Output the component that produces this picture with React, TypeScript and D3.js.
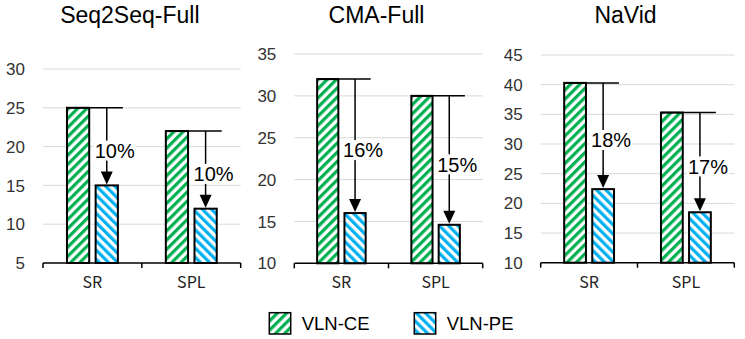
import React from "react";
import * as d3 from "d3";

const panelTitles = ["Seq2Seq-Full", "CMA-Full", "NaVid"];
const categories = ["SR", "SPL"];
const seriesNames = ["VLN-CE", "VLN-PE"];
const ceValues = [
  [25, 22],
  [32, 30],
  [40.3, 35.3],
];
const peValues = [
  [15, 12],
  [16, 14.6],
  [22.4, 18.5],
];
const dropLabels = [
  ["10%", "10%"],
  ["16%", "15%"],
  ["18%", "17%"],
];
const yDomains = [
  [5, 30],
  [10, 35],
  [10, 45],
];
const yTickStep = 5;

const layout = [
  { left: 43, right: 240.7, top: 69, bottom: 263 },
  { left: 294.3, right: 482.7, top: 54, bottom: 263.3 },
  { left: 540.7, right: 734.3, top: 55, bottom: 262.7 },
];

const GREEN = "#00B050";
const BLUE = "#00B0F0";
const FONT = "'Liberation Sans', Arial, sans-serif";
const CAT_FONT = "'Noto Sans CJK SC', 'Liberation Sans', sans-serif";

function Panel({ idx }: { idx: number }) {
  const L = layout[idx];
  const dom = yDomains[idx];
  const y = d3.scaleLinear().domain(dom).range([L.bottom, L.top]);
  const x0 = d3.scaleBand().domain(categories).range([L.left, L.right]);
  const bw = x0.bandwidth();
  const w = bw * 0.225;
  const g = bw * 0.065;
  const ticks = d3.range(dom[0], dom[1] + 0.001, yTickStep);
  const boundaries = [L.left, ...categories.map((c) => (x0(c) as number) + bw)];
  return (
    <g>
      <text
        x={(L.left + L.right) / 2 - 12}
        y={23}
        fontFamily={FONT}
        fontSize={23}
        textAnchor="middle"
        fill="#000"
      >
        {panelTitles[idx]}
      </text>
      {ticks.map((t) => (
        <g key={t}>
          {t !== dom[0] && (
            <line x1={L.left} x2={L.right} y1={y(t)} y2={y(t)} stroke="#d9d9d9" strokeWidth={1} />
          )}
          <text
            x={L.left - 18}
            y={y(t)}
            dy="0.36em"
            textAnchor="end"
            fontFamily={FONT}
            fontSize={17}
            fill="#333"
          >
            {t}
          </text>
        </g>
      ))}
      {categories.map((c, i) => {
        const cx = (x0(c) as number) + bw / 2;
        const gx = cx - g / 2 - w;
        const bx = cx + g / 2;
        const ce = ceValues[idx][i];
        const pe = peValues[idx][i];
        const ax = bx + w / 2;
        const yCe = y(ce);
        const yPe = y(pe);
        const ly = (yCe + yPe) / 2 + 4;
        const lx = ax + 8;
        return (
          <g key={c}>
            <rect x={gx} y={yCe} width={w} height={L.bottom - yCe} fill="url(#hatchGreen)" stroke="#000" strokeWidth={2} />
            <rect x={bx} y={yPe} width={w} height={L.bottom - yPe} fill="url(#hatchBlue)" stroke="#000" strokeWidth={2} />
            <line x1={gx} x2={bx + w + 5} y1={yCe} y2={yCe} stroke="#000" strokeWidth={1.5} />
            <line x1={ax} x2={ax} y1={yCe} y2={yPe - 12} stroke="#000" strokeWidth={1.5} />
            <path
              d={`M${ax - 6},${yPe - 14} L${ax + 6},${yPe - 14} L${ax},${yPe - 1} Z`}
              fill="#000"
            />
            <rect x={lx - 21} y={ly - 10} width={42} height={20} fill="#fff" />
            <text
              x={lx}
              y={ly}
              dy="0.36em"
              textAnchor="middle"
              fontFamily={FONT}
              fontSize={20}
              fill="#000"
            >
              {dropLabels[idx][i]}
            </text>
            <text
              x={cx}
              y={287.5}
              textAnchor="middle"
              fontFamily={CAT_FONT}
              fontSize={16}
              fill="#222"
            >
              {c}
            </text>
          </g>
        );
      })}
      <line x1={L.left} x2={L.right} y1={L.bottom} y2={L.bottom} stroke="#000" strokeWidth={1.5} />
      {boundaries.map((bx, i) => (
        <line key={i} x1={bx} x2={bx} y1={L.bottom} y2={L.bottom + 5} stroke="#000" strokeWidth={1.5} />
      ))}
    </g>
  );
}

export default function App() {
  const legendItems = [
    { name: seriesNames[0], fill: "url(#hatchGreen)", x: 269.3 },
    { name: seriesNames[1], fill: "url(#hatchBlue)", x: 414.3 },
  ];
  return (
    <svg
      width={745}
      height={339}
      style={{ position: "absolute", left: 0, top: 0, background: "#fff" }}
    >
      <defs>
        <pattern id="hatchGreen" patternUnits="userSpaceOnUse" width={6.5} height={10} patternTransform="rotate(45)">
          <rect x={0} y={0} width={6.5} height={10} fill="#fff" />
          <rect x={0} y={0} width={3.2} height={10} fill={GREEN} />
        </pattern>
        <pattern id="hatchBlue" patternUnits="userSpaceOnUse" width={6.5} height={10} patternTransform="rotate(-45)">
          <rect x={0} y={0} width={6.5} height={10} fill="#fff" />
          <rect x={0} y={0} width={3.2} height={10} fill={BLUE} />
        </pattern>
      </defs>
      <rect x={0} y={0} width={745} height={339} fill="#fff" />
      {panelTitles.map((_, i) => (
        <Panel key={i} idx={i} />
      ))}
      {legendItems.map((it) => (
        <g key={it.name}>
          <rect x={it.x} y={312.7} width={21.4} height={21.3} fill={it.fill} stroke="#000" strokeWidth={1.5} />
          <text
            x={it.x + 32.4}
            y={330}
            fontFamily={FONT}
            fontSize={18.5}
            fill="#000"
          >
            {it.name}
          </text>
        </g>
      ))}
    </svg>
  );
}
